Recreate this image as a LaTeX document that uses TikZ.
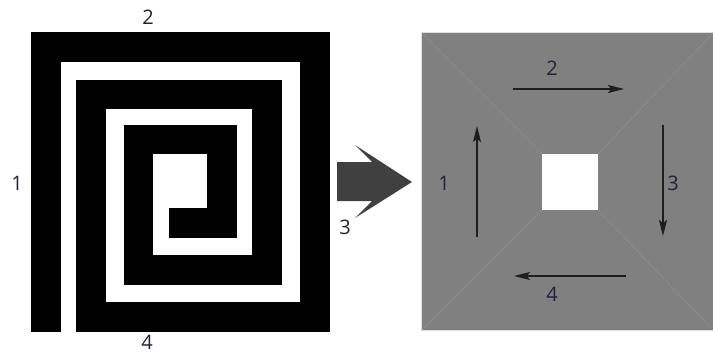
\documentclass[tikz,border=0pt]{standalone}
\usepackage{fontspec}
\setmainfont{Open Sans}
\usetikzlibrary{arrows.meta}
\definecolor{lbl}{HTML}{282038}
\definecolor{panel}{HTML}{808080}
\definecolor{diag}{HTML}{8C8C8C}
\definecolor{fat}{HTML}{404040}
\definecolor{arr}{HTML}{1E1E1E}
\tikzset{
  num/.style={text=lbl, font=\fontsize{20}{24}\selectfont, inner sep=0pt},
  strip/.style={fill=black},
  flow/.style={draw=arr, line width=1.5pt, -{Stealth[length=16pt,width=8pt,inset=3pt]}}
}
\begin{document}
\begin{tikzpicture}[x=1pt,y=-1pt]
\useasboundingbox (0,0) rectangle (713,353);
% spiral
\foreach \a/\b/\c/\d in {
  31/32/61/332, 31/32/330/62, 300/32/330/332, 76/302/330/332,
  76/80/106/332, 76/80/282/109, 252/80/282/285, 124/255/282/285,
  124/125/153/285, 124/125/237/154, 207/125/237/238, 169/208/237/238}
  \fill[strip] (\a,\b) rectangle (\c,\d);
\node[num] (l1) at (17,183) {1};
\node[num] (l2) at (148,17) {2};
\node[num] (l3) at (345,227) {3};
\node[num] (l4) at (147,342) {4};
% fat arrow
\fill[fat] (337,162) -- (372,162) -- (355,145) -- (412,182) -- (355,218) -- (372,201) -- (337,201) -- cycle;
% right panel
\fill[panel] (422,33) rectangle (713,330);
\draw[draw=white!75!gray, line width=0.8pt] (713,32.6) -- (421.6,32.6) -- (421.6,330.4) -- (713,330.4);
\coordinate (c1) at (422,33);
\coordinate (c2) at (713,33);
\coordinate (c3) at (713,330);
\coordinate (c4) at (422,330);
\node[fill=white, draw=none, minimum width=56pt, minimum height=56pt, inner sep=0pt] (hole) at (570,182) {};
\draw[diag, line width=0.8pt] (c1) -- (hole.north west);
\draw[diag, line width=0.8pt] (c2) -- (hole.north east);
\draw[diag, line width=0.8pt] (c3) -- (hole.south east);
\draw[diag, line width=0.8pt] (c4) -- (hole.south west);
\coordinate (a2s) at (513,89);
\coordinate (a2e) at (624,89);
\coordinate (a3s) at (663,125);
\coordinate (a3e) at (663,236);
\coordinate (a4s) at (626,276);
\coordinate (a4e) at (514,276);
\coordinate (a1s) at (477,237);
\coordinate (a1e) at (477,126);
\draw[flow] (a2s) -- (a2e);
\draw[flow] (a3s) -- (a3e);
\draw[flow] (a4s) -- (a4e);
\draw[flow] (a1s) -- (a1e);
\node[num] (r1) at (444,183) {1};
\node[num] (r2) at (552,68) {2};
\node[num] (r3) at (673,183) {3};
\node[num] (r4) at (552,294) {4};
\end{tikzpicture}
\end{document}
